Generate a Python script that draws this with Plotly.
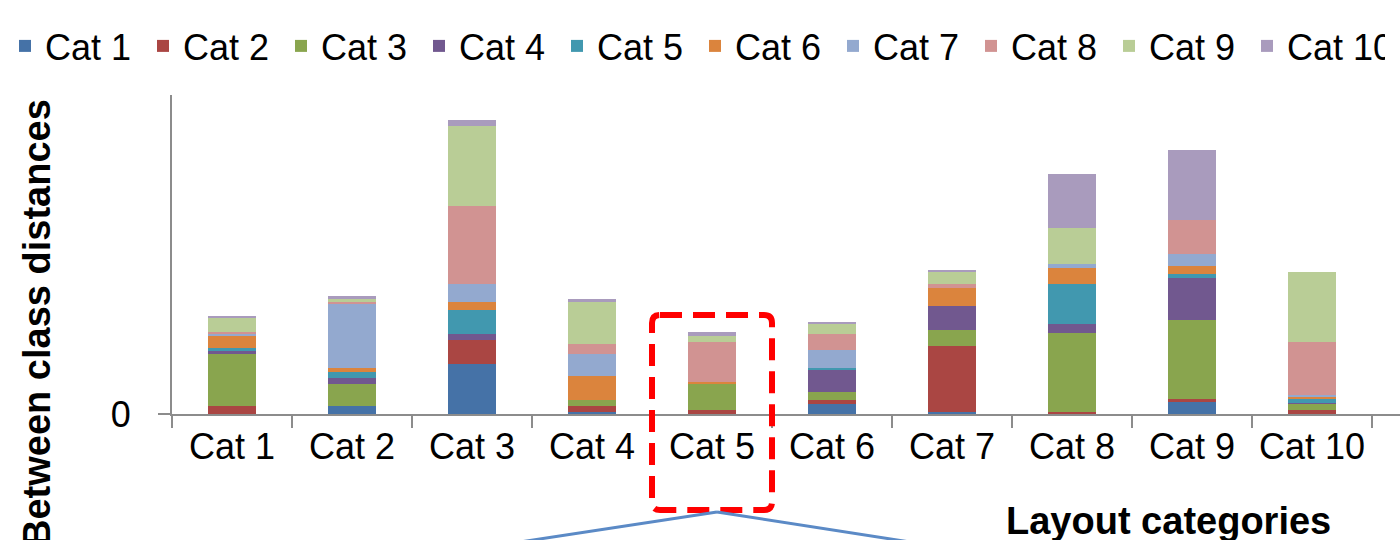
import plotly.graph_objects as go

# Layout categories along the x axis
categories = ["Cat 1", "Cat 2", "Cat 3", "Cat 4", "Cat 5",
              "Cat 6", "Cat 7", "Cat 8", "Cat 9", "Cat 10"]

# Stacked components (one list per class, one value per layout category)
series_names = ["Cat 1", "Cat 2", "Cat 3", "Cat 4", "Cat 5",
                "Cat 6", "Cat 7", "Cat 8", "Cat 9", "Cat 10"]
cat1 = [0, 8, 50, 2.3, 0, 10, 2, 0, 12, 0]
cat2 = [8, 0, 24, 5.7, 4, 4, 66, 2.3, 2.7, 4]
cat3 = [52, 22, 0, 6, 26.7, 7.7, 16, 78.3, 79.3, 6]
cat4 = [3.3, 6.3, 5.7, 0, 0, 22.3, 24, 9.3, 41.7, 0.7]
cat5 = [2.3, 5.7, 24.3, 0, 0, 2.3, 0, 40, 4, 5]
cat6 = [12.7, 4, 8, 24, 1.7, 0, 18, 16.3, 8.3, 1.3]
cat7 = [2.3, 64, 18, 22, 0, 17.7, 0, 3.7, 11.7, 2]
cat8 = [1.7, 2, 78, 10, 39.7, 16, 4, 0, 34.3, 53.3]
cat9 = [13.3, 2.7, 80, 42.3, 6.3, 10, 12, 36.3, 0, 70]
cat10 = [2.7, 3.7, 6, 2.3, 3.3, 2.3, 2, 53.7, 70, 0]
series_values = [cat1, cat2, cat3, cat4, cat5, cat6, cat7, cat8, cat9, cat10]

colors = ["#4572A7", "#AA4643", "#89A54E", "#71588F", "#4198AF",
          "#DB843D", "#93A9CF", "#D19392", "#B9CD96", "#A99BBD"]

W, H = 1400, 540
ML, MR, MT, MB = 172, 0, 95, 126
PW, PH = W - ML - MR, H - MT - MB
CAT_W = 120            # pixels per category slot
Y_MAX = 319

FONT = "Liberation Sans, Arial, sans-serif"

n = len(categories)
x_lo = -0.5
x_hi = x_lo + PW / CAT_W   # axis runs on to the right edge


def px_x(px):
    return (px - ML) / PW


def px_y(py):
    return (H - MB - py) / PH


def cat_x(v):
    return (v - x_lo) / (x_hi - x_lo)


fig = go.Figure()
for name, vals, col in zip(series_names, series_values, colors):
    fig.add_trace(go.Bar(
        x=categories, y=vals, name=name,
        marker=dict(color=col, line=dict(width=0)),
        width=0.4,
    ))

# Highlight box around the fifth layout category
bx0, bx1 = cat_x(3.5), cat_x(4.5)
by0, by1 = px_y(510), px_y(315)
r = 8
rx, ry = r / PW, r / PH
box_path = (
    f"M{bx0 + rx},{by1} L{bx1 - rx},{by1} Q{bx1},{by1} {bx1},{by1 - ry} "
    f"L{bx1},{by0 + ry} Q{bx1},{by0} {bx1 - rx},{by0} "
    f"L{bx0 + rx},{by0} Q{bx0},{by0} {bx0},{by0 + ry} "
    f"L{bx0},{by1 - ry} Q{bx0},{by1} {bx0 + rx},{by1} Z"
)

shapes = [
    dict(type="path", xref="paper", yref="paper", path=box_path,
         line=dict(color="#FF0000", width=6, dash="22px,11px"), layer="above"),
    dict(type="line", xref="paper", yref="paper",
         x0=px_x(717), y0=px_y(512), x1=px_x(520), y1=px_y(542),
         line=dict(color="#5B8AC6", width=3)),
    dict(type="line", xref="paper", yref="paper",
         x0=px_x(717), y0=px_y(512), x1=px_x(910), y1=px_y(542),
         line=dict(color="#5B8AC6", width=3)),
]

annotations = [
    dict(text="<b>Between class distances</b>", xref="paper", yref="paper",
         x=px_x(37), y=px_y(323), textangle=-90, showarrow=False,
         xanchor="center", yanchor="middle",
         font=dict(family=FONT, size=38, color="black")),
    dict(text="<b>Layout categories</b>", xref="paper", yref="paper",
         x=px_x(1168), y=px_y(521), showarrow=False,
         xanchor="center", yanchor="middle",
         font=dict(family=FONT, size=38, color="black")),
]

fig.update_layout(
    width=W, height=H,
    margin=dict(l=ML, r=MR, t=MT, b=MB, pad=0, autoexpand=False),
    barmode="stack",
    plot_bgcolor="white", paper_bgcolor="white",
    font=dict(family=FONT, size=36, color="black"),
    showlegend=True,
    legend=dict(orientation="h", xref="paper", yref="paper",
                x=px_x(5), y=px_y(16), xanchor="left", yanchor="top",
                bgcolor="rgba(0,0,0,0)",
                font=dict(family=FONT, size=36, color="black"),
                entrywidth=93, entrywidthmode="pixels",
                traceorder="normal", itemclick=False),
    xaxis=dict(
        type="category", range=[x_lo, x_hi],
        showline=True, linecolor="#8C8C8C", linewidth=2,
        ticks="outside", tickson="boundaries", ticklen=12,
        tickcolor="#8C8C8C", tickwidth=2,
        showgrid=False, zeroline=False,
        tickfont=dict(family=FONT, size=36, color="black"),
    ),
    yaxis=dict(
        range=[0, Y_MAX],
        showline=True, linecolor="#8C8C8C", linewidth=2,
        ticks="outside", ticklen=12, tickcolor="#8C8C8C", tickwidth=2,
        tickvals=[0], ticktext=["0"], ticklabelstandoff=20,
        showgrid=False, zeroline=False,
        tickfont=dict(family=FONT, size=36, color="black"),
    ),
    shapes=shapes,
    annotations=annotations,
)

fig.write_html("out.html")
